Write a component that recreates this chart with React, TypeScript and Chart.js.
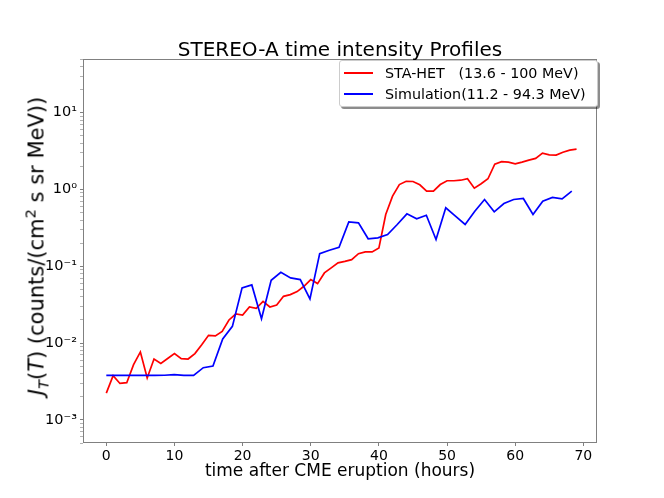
import { Chart, ChartConfiguration, registerables } from "chart.js";
import { useEffect, useRef } from "react";

Chart.register(...registerables);

// STA-HET observations, hourly
const hetHours = [
  0, 1, 2, 3, 4, 5, 6, 7, 8, 9, 10, 11, 12, 13, 14, 15, 16, 17, 18, 19, 20, 21,
  22, 23, 24, 25, 26, 27, 28, 29, 30, 31, 32, 33, 34, 35, 36, 37, 38, 39, 40,
  41, 42, 43, 44, 45, 46, 47, 48, 49, 50, 51, 52, 53, 54, 55, 56, 57, 58, 59,
  60, 61, 62, 63, 64, 65, 66, 67, 68, 69,
];
const hetFlux = [
  0.00223, 0.00376, 0.00298, 0.00305, 0.00524, 0.00766, 0.00351, 0.00621,
  0.00544, 0.0063, 0.00728, 0.00626, 0.0062, 0.0073, 0.0095, 0.0126, 0.0124,
  0.0142, 0.02, 0.0239, 0.0232, 0.0295, 0.0284, 0.035, 0.0295, 0.0313, 0.0406,
  0.0428, 0.0468, 0.0549, 0.0671, 0.0595, 0.0819, 0.0953, 0.111, 0.116, 0.122,
  0.146, 0.154, 0.154, 0.173, 0.472, 0.818, 1.16, 1.28, 1.27, 1.15, 0.95, 0.95,
  1.16, 1.3, 1.3, 1.32, 1.38, 1.04, 1.19, 1.38, 2.14, 2.3, 2.27, 2.16, 2.27,
  2.41, 2.54, 2.97, 2.83, 2.8, 3.06, 3.25, 3.35,
];

// simulation output
const simHours = [
  0, 1.42, 2.85, 4.27, 5.69, 7.12, 8.54, 9.96, 11.38, 12.81, 14.23, 15.65,
  17.08, 18.5, 19.92, 21.35, 22.77, 24.19, 25.61, 27.04, 28.46, 29.88, 31.31,
  32.73, 34.15, 35.58, 37.0, 38.42, 39.84, 41.27, 42.69, 44.11, 45.54, 46.96,
  48.38, 49.81, 51.23, 52.65, 54.07, 55.5, 56.92, 58.34, 59.77, 61.19, 62.61,
  64.04, 65.46, 66.88, 68.3,
];
const simFlux = [
  0.00379, 0.00379, 0.00379, 0.00379, 0.00379, 0.00379, 0.00381, 0.00388,
  0.0038, 0.0038, 0.00478, 0.00502, 0.0113, 0.0165, 0.0523, 0.0572, 0.0208,
  0.0657, 0.0836, 0.0705, 0.0671, 0.0376, 0.146, 0.162, 0.177, 0.379, 0.367,
  0.228, 0.234, 0.259, 0.35, 0.482, 0.415, 0.462, 0.223, 0.577, 0.449, 0.35,
  0.521, 0.741, 0.512, 0.656, 0.741, 0.764, 0.472, 0.705, 0.787, 0.756, 0.95,
];

const xTicks = [0, 10, 20, 30, 40, 50, 60, 70];
const yTicks = [1e-3, 1e-2, 1e-1, 1, 10];
const yTickLabels = ["10⁻³", "10⁻²", "10⁻¹", "10⁰", "10¹"];

const seriesLabels = ["STA-HET   (13.6 - 100 MeV)", "Simulation(11.2 - 94.3 MeV)"];
const seriesColors = ["#ff0000", "#0000ff"];

const FONT = "'DejaVu Sans', sans-serif";
const SPINE = "#808080";

// minor ticks 2..9 of each decade between 5e-4 and 50
const minorTicks: number[] = [];
for (let e = -4; e <= 1; e++) {
  for (let m = 2; m <= 9; m++) {
    const v = m * Math.pow(10, e);
    if (v >= 5e-4 && v <= 50) minorTicks.push(v);
  }
}

const framePlugin = {
  id: "frame",
  afterDraw(chart: Chart) {
    const { ctx, chartArea } = chart;
    ctx.save();
    ctx.strokeStyle = SPINE;
    ctx.lineWidth = 1;
    ctx.strokeRect(
      Math.round(chartArea.left) + 0.5,
      Math.round(chartArea.top) + 0.5,
      Math.round(chartArea.right - chartArea.left) - 1,
      Math.round(chartArea.bottom - chartArea.top) - 1
    );
    ctx.restore();
  },
};

export default function App() {
  const chartRef = useRef<HTMLCanvasElement | null>(null);
  const chartInstance = useRef<Chart | null>(null);

  useEffect(() => {
    document.body.style.margin = "0";
    if (!chartRef.current) return;
    const ctx = chartRef.current.getContext("2d");
    if (!ctx) return;
    if (chartInstance.current) chartInstance.current.destroy();

    const config: ChartConfiguration<"line"> = {
      type: "line",
      data: {
        datasets: [
          {
            label: seriesLabels[0],
            data: hetHours.map((h, i) => ({ x: h, y: hetFlux[i] })),
            borderColor: seriesColors[0],
            borderWidth: 1.7,
            pointRadius: 0,
            tension: 0,
            order: 2,
          },
          {
            label: seriesLabels[1],
            data: simHours.map((h, i) => ({ x: h, y: simFlux[i] })),
            borderColor: seriesColors[1],
            borderWidth: 1.7,
            pointRadius: 0,
            tension: 0,
            order: 1,
          },
        ],
      },
      options: {
        animation: false,
        responsive: false,
        devicePixelRatio: 1,
        layout: { padding: { left: 0, top: 59, right: 67, bottom: 0 } },
        plugins: {
          legend: { display: false },
          title: { display: false },
          tooltip: { enabled: false },
        },
        scales: {
          x: {
            type: "linear",
            min: -3.42,
            max: 72.0,
            afterBuildTicks: (scale: any) => {
              scale.ticks = xTicks.map((v) => ({ value: v }));
            },
            afterFit: (scale: any) => {
              scale.height = 55;
            },
            border: { display: false },
            grid: {
              drawOnChartArea: false,
              color: SPINE,
              tickLength: 3,
            },
            ticks: {
              autoSkip: false,
              maxRotation: 0,
              padding: 2,
              color: "#000",
              font: { family: FONT, size: 14 },
              callback: (v: any) => String(v),
            },
          },
          y: {
            type: "logarithmic",
            min: 5e-4,
            max: 50,
            afterBuildTicks: (scale: any) => {
              scale.ticks = [...yTicks, ...minorTicks]
                .sort((a, b) => a - b)
                .map((v) => ({ value: v, major: yTicks.includes(v) }));
            },
            afterFit: (scale: any) => {
              scale.width = 83;
            },
            border: { display: false },
            grid: {
              drawOnChartArea: false,
              color: SPINE,
              tickLength: 3,
              tickWidth: (c: any) => (yTicks.includes(c.tick?.value) ? 1 : 0.6),
            },
            ticks: {
              autoSkip: false,
              padding: 3,
              color: "#000",
              font: { family: FONT, size: 14.5 },
              callback: (v: any) => {
                const i = yTicks.indexOf(Number(v));
                return i >= 0 ? yTickLabels[i] : "";
              },
            },
          },
        },
      },
      plugins: [framePlugin],
    };

    chartInstance.current = new Chart(ctx, config);
    return () => {
      if (chartInstance.current) {
        chartInstance.current.destroy();
        chartInstance.current = null;
      }
    };
  }, []);

  return (
    <div
      style={{
        position: "relative",
        width: 664,
        height: 498,
        background: "#fff",
        fontFamily: FONT,
        color: "#000",
      }}
    >
      <canvas ref={chartRef} width={664} height={498} style={{ display: "block" }} />

      <div
        style={{
          position: "absolute",
          left: 340,
          top: 39,
          transform: "translateX(-50%)",
          fontSize: 20,
          lineHeight: "20px",
          whiteSpace: "nowrap",
        }}
      >
        STEREO-A time intensity Profiles
      </div>

      <div
        style={{
          position: "absolute",
          left: 340,
          top: 462,
          transform: "translateX(-50%)",
          fontSize: 17,
          lineHeight: "17px",
          whiteSpace: "nowrap",
        }}
      >
        time after CME eruption (hours)
      </div>

      <div
        style={{
          position: "absolute",
          left: 37,
          top: 246,
          transform: "translate(-50%, -50%) rotate(-90deg)",
          fontSize: 21,
          lineHeight: "21px",
          whiteSpace: "nowrap",
        }}
      >
        <i>J</i>
        <sub style={{ fontSize: "0.7em", lineHeight: 0, fontStyle: "italic" }}>T</sub>(
        <i>T</i>) (counts/(cm
        <sup style={{ fontSize: "0.7em", lineHeight: 0 }}>2</sup> s sr MeV))
      </div>

      <div
        style={{
          position: "absolute",
          left: 339,
          top: 60,
          width: 257,
          height: 45,
          background: "#fff",
          border: "1px solid #cccccc",
          borderRadius: 3,
          boxShadow: "2px 2px 0 rgba(0,0,0,0.45)",
          fontSize: 14.3,
        }}
      >
        {seriesLabels.map((lab, i) => (
          <div
            key={lab}
            style={{
              position: "absolute",
              left: 0,
              top: 3 + i * 21,
              height: 18,
              display: "flex",
              alignItems: "center",
              whiteSpace: "pre",
            }}
          >
            <span
              style={{
                display: "inline-block",
                marginLeft: 4,
                width: 29,
                height: 2,
                background: seriesColors[i],
              }}
            />
            <span style={{ marginLeft: 12 }}>{lab}</span>
          </div>
        ))}
      </div>
    </div>
  );
}
